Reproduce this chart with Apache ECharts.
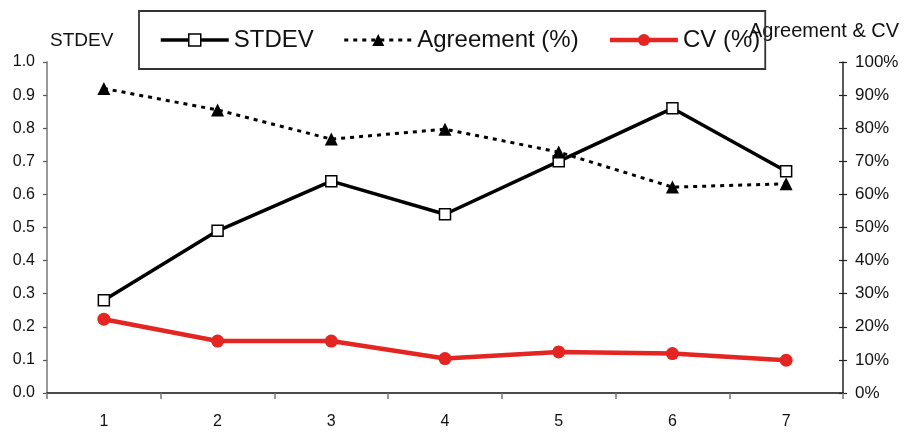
<!DOCTYPE html>
<html>
<head>
<meta charset="utf-8">
<script src="https://cdn.jsdelivr.net/npm/echarts@6/dist/echarts.min.js"></script>
<style>
html,body{margin:0;padding:0;background:#fff;}
#c{width:904px;height:432px;}
</style>
</head>
<body>
<div id="c"></div>
<script>
var categories = ['1', '2', '3', '4', '5', '6', '7'];
var stdevValues = [0.28, 0.49, 0.64, 0.54, 0.70, 0.86, 0.67];
var agreementValues = [92, 85.5, 76.7, 79.7, 72.8, 62.2, 63.2];
var cvValues = [22.3, 15.7, 15.7, 10.4, 12.4, 11.9, 9.9];
var leftTicks = [0, 1, 0.1];
var rightTicks = [0, 100, 10];

var FONT = 'Liberation Sans, Arial, sans-serif';
var chart = echarts.init(document.getElementById('c'), null, {renderer: 'canvas'});
chart.setOption({
  animation: false,
  backgroundColor: '#fff',
  grid: {left: 47, right: 61, top: 62, bottom: 39, containLabel: false},
  legend: {
    left: 139, top: 11,
    padding: [17, 5, 17, 20],
    itemGap: 29,
    itemWidth: 68,
    itemHeight: 15,
    borderColor: '#333',
    borderWidth: 1.8,
    textStyle: {fontFamily: FONT, fontSize: 24, color: '#111'},
    data: [
      {name: 'STDEV', lineStyle: {width: 3.5, color: '#000'},
        itemStyle: {color: '#fff', borderColor: '#000', borderWidth: 1.5}},
      {name: 'Agreement (%)', lineStyle: {width: 3, color: '#000', type: [4, 5]},
        itemStyle: {color: '#000'}},
      {name: 'CV (%)', lineStyle: {width: 4.5, color: '#e52521'},
        itemStyle: {color: '#e52521'}}
    ]
  },
  graphic: [{
    type: 'text', left: 749, top: 21,
    style: {text: 'Agreement & CV', fontFamily: FONT, fontSize: 20, fill: '#111'}
  }],
  xAxis: {
    type: 'category',
    data: categories,
    boundaryGap: true,
    axisLine: {lineStyle: {color: '#111', width: 1.5}},
    axisTick: {show: true, length: 6, lineStyle: {color: '#777', width: 1.5}},
    axisLabel: {margin: 21, fontFamily: FONT, fontSize: 16, color: '#111'},
    splitLine: {show: false}
  },
  yAxis: [{
    type: 'value',
    min: leftTicks[0], max: leftTicks[1], interval: leftTicks[2],
    name: 'STDEV',
    nameLocation: 'end',
    nameGap: 12,
    nameTextStyle: {fontFamily: FONT, fontSize: 19, color: '#111', align: 'left', padding: [0, 0, 0, 3]},
    axisLine: {show: true, lineStyle: {color: '#777', width: 1.5}},
    axisTick: {show: true, length: 4, lineStyle: {color: '#555', width: 1.2}},
    axisLabel: {margin: 12, fontFamily: FONT, fontSize: 16, color: '#111',
      formatter: function (v) { return v.toFixed(1); }},
    splitLine: {show: false}
  }, {
    type: 'value',
    position: 'right',
    min: rightTicks[0], max: rightTicks[1], interval: rightTicks[2],
    axisLine: {show: true, lineStyle: {color: '#222', width: 1.5}},
    axisTick: {show: true, length: 4, lineStyle: {color: '#222', width: 1.2}},
    axisLabel: {margin: 12, fontFamily: FONT, fontSize: 17, color: '#111', formatter: '{value}%'},
    splitLine: {show: false}
  }, {
    type: 'value',
    position: 'right',
    min: rightTicks[0], max: rightTicks[1], interval: rightTicks[2],
    axisLine: {show: false},
    axisTick: {show: true, inside: true, length: 4, lineStyle: {color: '#222', width: 1.2}},
    axisLabel: {show: false},
    splitLine: {show: false}
  }],
  series: [{
    name: 'STDEV',
    type: 'line',
    yAxisIndex: 0,
    data: stdevValues,
    symbol: 'rect',
    symbolSize: 11,
    showSymbol: true,
    lineStyle: {color: '#000', width: 3.5},
    itemStyle: {color: '#fff', borderColor: '#000', borderWidth: 1.5},
    z: 3
  }, {
    name: 'Agreement (%)',
    type: 'line',
    yAxisIndex: 1,
    data: agreementValues,
    symbol: 'triangle',
    symbolSize: 13,
    lineStyle: {color: '#000', width: 3, type: [4, 5]},
    itemStyle: {color: '#000'},
    z: 4
  }, {
    name: 'CV (%)',
    type: 'line',
    yAxisIndex: 1,
    data: cvValues,
    symbol: 'circle',
    symbolSize: 13,
    lineStyle: {color: '#e52521', width: 4.5},
    itemStyle: {color: '#e52521'},
    z: 2
  }]
});
</script>
</body>
</html>
